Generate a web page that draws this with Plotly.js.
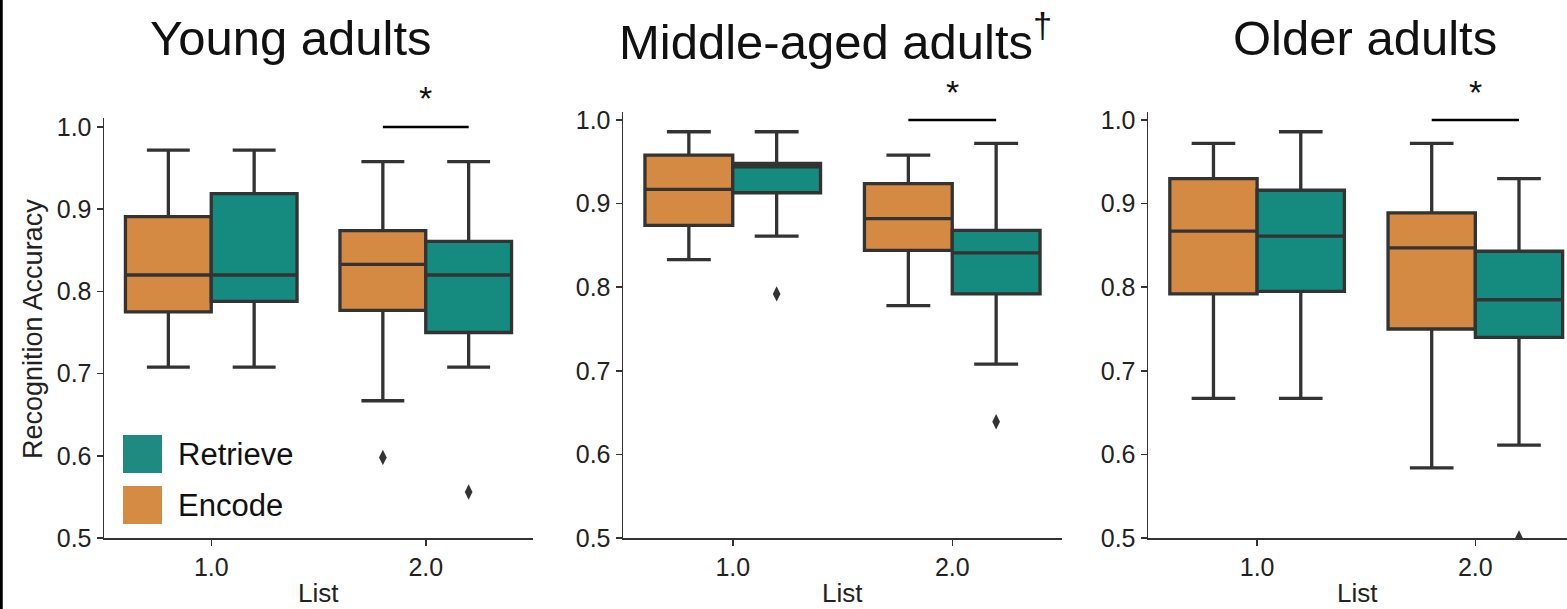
<!DOCTYPE html>
<html><head><meta charset="utf-8">
<script src="https://cdn.plot.ly/plotly-3.0.1.min.js"></script>
<style>body{margin:0;background:#fff}</style>
</head><body><div id="chart" style="width:1567px;height:609px"></div>
<script>
// ---- data ----
const lists = ['1.0', '2.0'];
const conditions = ['Encode', 'Retrieve'];
const panelTitles = ['Young adults', 'Middle-aged adults<sup>†</sup>', 'Older adults'];
// per list: [lowerWhisker, q1, median, q3, upperWhisker]
const youngEncode   = [[0.708, 0.775, 0.820, 0.891, 0.972], [0.667, 0.777, 0.833, 0.874, 0.958]];
const youngRetrieve = [[0.708, 0.788, 0.820, 0.919, 0.972], [0.708, 0.750, 0.820, 0.861, 0.958]];
const middleEncode   = [[0.833, 0.874, 0.917, 0.958, 0.986], [0.778, 0.844, 0.882, 0.924, 0.958]];
const middleRetrieve = [[0.861, 0.913, 0.944, 0.948, 0.986], [0.708, 0.792, 0.841, 0.868, 0.972]];
const olderEncode   = [[0.667, 0.792, 0.867, 0.930, 0.972], [0.584, 0.750, 0.847, 0.889, 0.972]];
const olderRetrieve = [[0.667, 0.795, 0.861, 0.916, 0.986], [0.611, 0.740, 0.785, 0.843, 0.930]];
// outliers
const youngEncodeOutX = ['2.0'];   const youngEncodeOutY = [0.598];
const youngRetrieveOutX = ['2.0']; const youngRetrieveOutY = [0.556];
const middleEncodeOutX = [];       const middleEncodeOutY = [];
const middleRetrieveOutX = ['1.0', '2.0']; const middleRetrieveOutY = [0.792, 0.639];
const olderEncodeOutX = [];        const olderEncodeOutY = [];
const olderRetrieveOutX = ['2.0']; const olderRetrieveOutY = [0.5];
// significance markers (List 2.0 comparison)
const sigLevel = [1.0, 1.0, 1.0];
const starLevel = [1.035, 1.033, 1.033];

// ---- styles ----
const colors = {Encode: '#D48A42', Retrieve: '#158B80'};
const legendColors = {Encode: '#D68B45', Retrieve: '#1E8A80'};
const dark = '#333333';
const W = 1567, H = 609;
const xDomPx = [[104, 533], [623, 1062], [1148, 1567]];
const yDomPx = [[118, 538], [112, 538], [112, 538]];
const xRanges = [[-0.5, 1.5], [-0.5, 1.5], [-0.5, 1.42]];
const yRanges = [[0.5, 1.011], [0.5, 1.0096], [0.5, 1.0096]];
const titleCx = [291, 835, 1365];

const stats = [[youngEncode, youngRetrieve], [middleEncode, middleRetrieve], [olderEncode, olderRetrieve]];
const outs = [
  [[youngEncodeOutX, youngEncodeOutY], [youngRetrieveOutX, youngRetrieveOutY]],
  [[middleEncodeOutX, middleEncodeOutY], [middleRetrieveOutX, middleRetrieveOutY]],
  [[olderEncodeOutX, olderEncodeOutY], [olderRetrieveOutX, olderRetrieveOutY]]
];

const traces = [];
const layout = {
  width: W, height: H,
  margin: {l: 0, r: 0, t: 0, b: 0},
  paper_bgcolor: '#fff', plot_bgcolor: '#fff',
  showlegend: false,
  boxmode: 'group', boxgap: 0.2, boxgroupgap: 0,
  scattermode: 'group', scattergap: 0.2,
  font: {family: 'Liberation Sans, Arial, sans-serif', color: '#222'},
  shapes: [], annotations: []
};

for (let p = 0; p < 3; p++) {
  const xa = 'x' + (p === 0 ? '' : p + 1), ya = 'y' + (p === 0 ? '' : p + 1);
  conditions.forEach((c, ci) => {
    const s = stats[p][ci];
    traces.push({
      type: 'box', name: c, x: lists,
      lowerfence: s.map(r => r[0]), q1: s.map(r => r[1]), median: s.map(r => r[2]),
      q3: s.map(r => r[3]), upperfence: s.map(r => r[4]),
      offsetgroup: c, fillcolor: colors[c], line: {color: dark, width: 3.3},
      whiskerwidth: 0.5, boxpoints: false, xaxis: xa, yaxis: ya, hoverinfo: 'y'
    });
  });
  conditions.forEach((c, ci) => {
    const o = outs[p][ci];
    traces.push({
      type: 'scatter', mode: 'markers', name: c + ' outliers',
      x: o[0].length ? o[0] : lists, y: o[1].length ? o[1] : [null, null],
      offsetgroup: c, marker: {symbol: 'diamond-tall', size: 11, color: dark},
      xaxis: xa, yaxis: ya, hoverinfo: 'y'
    });
  });
  const axCommon = {
    showline: true, linecolor: dark, linewidth: 1.5, ticks: 'outside', ticklen: 6,
    tickwidth: 1.5, tickcolor: dark, tickfont: {size: 25, color: '#222'},
    showgrid: false, zeroline: false, fixedrange: true
  };
  layout['xaxis' + (p === 0 ? '' : p + 1)] = Object.assign({}, axCommon, {
    domain: [xDomPx[p][0] / W, xDomPx[p][1] / W], anchor: ya, type: 'category',
    categoryorder: 'array', categoryarray: lists, range: xRanges[p]
  });
  layout['yaxis' + (p === 0 ? '' : p + 1)] = Object.assign({}, axCommon, {
    domain: [(H - yDomPx[p][1]) / H, (H - yDomPx[p][0]) / H], anchor: xa,
    range: yRanges[p], dtick: 0.1, tick0: 0.5, tickformat: '.1f'
  });
  // significance line and star
  layout.shapes.push({type: 'line', xref: xa, yref: ya, x0: 0.8, x1: 1.2,
    y0: sigLevel[p], y1: sigLevel[p], line: {color: '#000', width: 2.5}});
  const yr = yRanges[p];
  layout.annotations.push({xref: xa + ' domain', yref: ya + ' domain',
    x: (1 - xRanges[p][0]) / (xRanges[p][1] - xRanges[p][0]),
    y: (starLevel[p] - yr[0]) / (yr[1] - yr[0]), text: '*',
    showarrow: false, font: {size: 34, color: '#111'}, xanchor: 'center', yanchor: 'middle'});
  // panel title
  layout.annotations.push({xref: 'paper', yref: 'paper', x: titleCx[p] / W, y: (H - 38) / H,
    text: panelTitles[p], showarrow: false, xanchor: 'center', yanchor: 'middle',
    font: {size: 49, color: '#111'}});
  // x axis title
  layout.annotations.push({xref: 'paper', yref: 'paper',
    x: ((xDomPx[p][0] + xDomPx[p][1]) / 2) / W, y: (H - 593) / H,
    text: 'List', showarrow: false, xanchor: 'center', yanchor: 'middle',
    font: {size: 26, color: '#222'}});
}
// y axis title
layout.annotations.push({xref: 'paper', yref: 'paper', x: 33 / W, y: (H - 329) / H,
  text: 'Recognition Accuracy', textangle: -90, showarrow: false,
  xanchor: 'center', yanchor: 'middle', font: {size: 27, color: '#222'}});
// legend drawn as patches + labels (Retrieve above Encode)
const legendOrder = ['Retrieve', 'Encode'];
legendOrder.forEach((c, i) => {
  const top = 435 + i * 51;
  layout.shapes.push({type: 'rect', xref: 'paper', yref: 'paper',
    x0: 123 / W, x1: 162 / W, y0: (H - top - 38) / H, y1: (H - top) / H,
    fillcolor: legendColors[c], line: {width: 0}});
  layout.annotations.push({xref: 'paper', yref: 'paper', x: 176 / W, y: (H - top - 19) / H,
    text: c, showarrow: false, xanchor: 'left', yanchor: 'middle',
    font: {size: 31, color: '#111'}});
});
// left border line of the figure
layout.shapes.push({type: 'line', xref: 'paper', yref: 'paper', x0: 0.0008, x1: 0.0008,
  y0: 0, y1: 1, line: {color: '#000', width: 3}});

Plotly.newPlot('chart', traces, layout, {displayModeBar: false, staticPlot: true});
</script>
</body></html>
